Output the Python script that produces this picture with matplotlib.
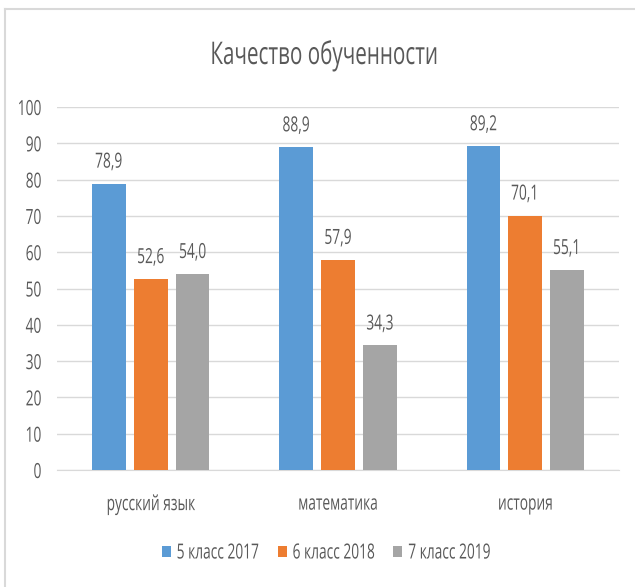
import matplotlib.pyplot as plt
import numpy as np
from matplotlib.lines import Line2D
from matplotlib.patheffects import AbstractPathEffect
from matplotlib.transforms import Affine2D

plt.rcParams['font.family'] = ['Open Sans', 'DejaVu Sans']

subjects = ['русский язык', 'математика', 'история']
series_names = ['5 класс 2017', '6 класс 2018', '7 класс 2019']
values_2017 = [78.9, 88.9, 89.2]
values_2018 = [52.6, 57.9, 70.1]
values_2019 = [54.0, 34.3, 55.1]
colors = ['#5B9BD5', '#ED7D31', '#A5A5A5']
text_color = '#595959'
SX = 0.66  # the reference font is horizontally condensed


class Squeeze(AbstractPathEffect):
    # squeeze text glyphs horizontally around a pivot
    def __init__(self, sx=SX, pivot='center'):
        super().__init__()
        self.sx = sx
        self.pivot = pivot

    def draw_path(self, renderer, gc, tpath, affine, rgbFace=None):
        ext = tpath.get_extents()
        cx = {'center': (ext.x0 + ext.x1) / 2, 'left': 0, 'right': ext.x1}[self.pivot]
        t = Affine2D().translate(-cx, 0).scale(self.sx, 1).translate(cx, 0) + affine
        renderer.draw_path(gc, tpath, t, rgbFace)


fig = plt.figure(figsize=(6.35, 5.87), dpi=100)
ax = fig.add_axes([57 / 635, 1 - 470 / 587, 562 / 635, 363 / 587])

# light frame (left and top edges visible in the reference)
fig.lines.append(Line2D([5 / 635, 5 / 635], [0, 1 - 8.5 / 587], transform=fig.transFigure,
                        color='#D9D9D9', linewidth=1.5))
fig.lines.append(Line2D([5 / 635, 1], [1 - 8.5 / 587, 1 - 8.5 / 587], transform=fig.transFigure,
                        color='#D9D9D9', linewidth=1.5))

x = np.arange(len(subjects))
width = 0.18
step = 0.224
for i, (vals, name) in enumerate(zip([values_2017, values_2018, values_2019], series_names)):
    pos = x + (i - 1) * step
    bars = ax.bar(pos, vals, width, color=colors[i], label=name, zorder=3)
    for b, v in zip(bars, vals):
        t = ax.annotate(f'{v:.1f}'.replace('.', ','), (b.get_x() + b.get_width() / 2, v),
                        xytext=(0, 11.5), textcoords='offset points',
                        ha='center', va='baseline', fontsize=15, color=text_color)
        t.set_path_effects([Squeeze()])

ax.set_xlim(-0.5, 2.5)
ax.set_ylim(0, 100)
ax.set_yticks(range(0, 101, 10))
ax.set_xticks(x)
ax.set_xticklabels(subjects)
ax.tick_params(axis='both', length=0, labelsize=15, labelcolor=text_color)
ax.tick_params(axis='x', pad=17)
ax.tick_params(axis='y', pad=11)
for tk in ax.yaxis.get_major_ticks():
    tk.label1.set_path_effects([Squeeze(pivot='right')])
for tk in ax.xaxis.get_major_ticks():
    tk.label1.set_path_effects([Squeeze()])
ax.grid(axis='y', color='#D9D9D9', linewidth=1, zorder=0)
for s in ['top', 'right', 'left']:
    ax.spines[s].set_visible(False)
ax.spines['bottom'].set_color('#D9D9D9')

title = fig.text(324 / 635, 1 - 64 / 587, 'Качество обученности', ha='center', va='baseline',
                 fontsize=22.5, color=text_color)
title.set_path_effects([Squeeze()])

leg = fig.legend(loc='center', bbox_to_anchor=(0.547, 1 - 553 / 587), ncol=3, frameon=False,
                 fontsize=15, handlelength=0.43, handleheight=0.43, handletextpad=0.29,
                 columnspacing=-1.15, labelcolor=text_color)
for txt in leg.get_texts():
    txt.set_path_effects([Squeeze(pivot='left')])

fig.savefig('out.png', dpi=100, facecolor='white')
